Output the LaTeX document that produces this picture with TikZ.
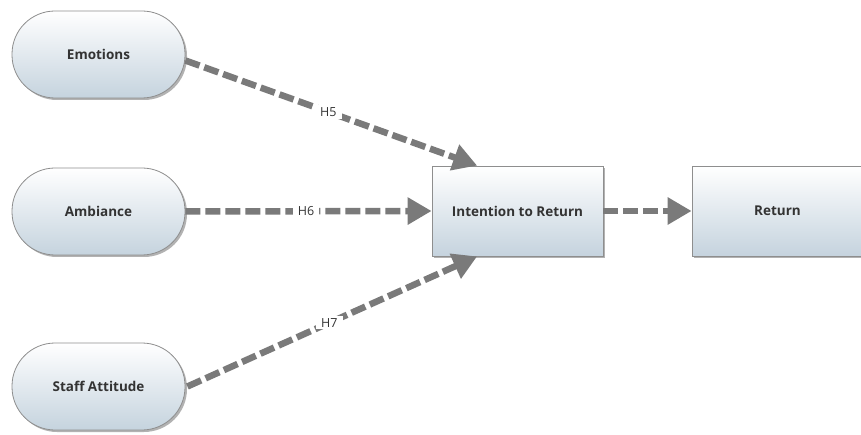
\documentclass[tikz,border=0pt]{standalone}
\usepackage{fontspec}
\setmainfont{Open Sans}
\usetikzlibrary{arrows.meta,shadows,calc}
\definecolor{boxbot}{HTML}{C5D3DE}
\definecolor{boxline}{HTML}{8E8E8E}
\definecolor{txt}{HTML}{333333}
\definecolor{arr}{HTML}{7A7A7A}
\begin{document}
\begin{tikzpicture}[x=1pt,y=-1pt,
  base/.style={draw=boxline, line width=0.8pt, top color=white, bottom color=boxbot,
    font=\fontsize{13.5}{16}\selectfont\bfseries, text=txt,
    drop shadow={shadow xshift=2pt, shadow yshift=-2pt, fill=black, opacity=0.3}},
  pill/.style={base, rounded corners=43pt, minimum width=173pt, minimum height=87pt, inner sep=0pt},
  rbox/.style={base, minimum width=171pt, minimum height=90pt, inner sep=0pt},
  conn/.style={draw=arr, line width=6.5pt, dash pattern=on 15pt off 5pt,
    -{Triangle[length=24pt,width=26pt]}},
  hlab/.style={fill=white, inner xsep=5pt, inner ysep=2pt, font=\fontsize{12.5}{15}\selectfont, text=txt}]
\useasboundingbox (0,0) rectangle (861,435);
\node[pill] (emo) at (98.5,54.5) {Emotions};
\node[pill] (amb) at (98.5,211.5) {Ambiance};
\node[pill] (sta) at (98.5,386.5) {Staff Attitude};
\node[rbox] (int) at (517.5,211) {Intention to Return};
\node[rbox] (ret) at (777.5,211) {Return};
\coordinate (itop) at ($(int.north west)!0.265!(int.north east)$);
\coordinate (ibot) at ($(int.south west)!0.265!(int.south east)$);
\draw[conn] ($(emo.east)+(0,6)$) -- node[hlab,pos=0.49] {H5} (itop);
\draw[conn] (amb.east) -- node[hlab,pos=0.49] {H6} (int.west);
\draw[conn] ($(sta.east)+(2,0)$) -- node[hlab,pos=0.49] {H7} (ibot);
\draw[conn] (int.east) -- (ret.west);
\end{tikzpicture}
\end{document}
